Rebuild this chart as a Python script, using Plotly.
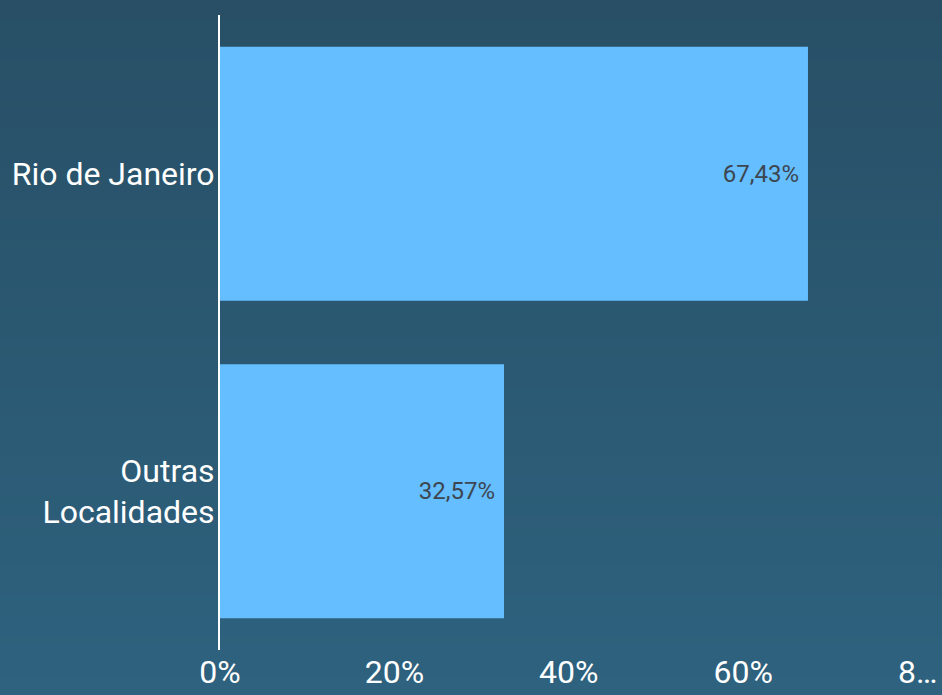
import plotly.graph_objects as go

categories = ["Rio de Janeiro", "Outras<br>Localidades"]
values = [67.43, 32.57]
tick_vals = [0, 20, 40, 60, 80]
tick_text = ["0%", "20%", "40%", "60%", "8…"]

W, H = 942, 695
ML, MR, MT, MB = 220, 0, 15, 45
pw, ph = W - ML - MR, H - MT - MB

top = (40, 79, 102)
bot = (46, 98, 126)
shapes = []
N = 70
y_lo = -MB / ph
y_hi = 1 + MT / ph
for i in range(N):
    t = i / (N - 1)
    c = tuple(round(bot[k] + (top[k] - bot[k]) * t) for k in range(3))
    y0 = y_lo + (y_hi - y_lo) * i / N
    y1 = y_lo + (y_hi - y_lo) * (i + 1) / N + 0.002
    shapes.append(dict(type="rect", xref="paper", yref="paper",
                       x0=-ML / pw - 0.01, x1=1.01, y0=y0, y1=y1,
                       fillcolor="rgb(%d,%d,%d)" % c, line=dict(width=0),
                       layer="below"))

fig = go.Figure(go.Bar(
    x=values, y=categories, orientation="h",
    marker=dict(color="#64beff", line=dict(width=0)),
    texttemplate="%{x:.2f}%\u00a0", textposition="inside", insidetextanchor="end",
    textfont=dict(family="Roboto", size=24, color="#3d4650"),
    width=0.8,
))

fig.update_layout(
    width=W, height=H,
    margin=dict(l=ML, r=MR, t=MT, b=MB),
    paper_bgcolor="#2b5873", plot_bgcolor="rgba(0,0,0,0)",
    separators=",.",
    shapes=shapes,
    showlegend=False,
    font=dict(family="Roboto", color="white"),
    xaxis=dict(range=[0, 82.8], tickvals=tick_vals, ticktext=tick_text,
               showgrid=False, zeroline=False, showline=False,
               tickfont=dict(size=32, color="white"), ticks="",
               automargin=False),
    yaxis=dict(categoryorder="array", categoryarray=categories,
               autorange="reversed", showgrid=False, zeroline=False,
               showline=True, linecolor="white", linewidth=2,
               tickfont=dict(size=32, color="white"), ticks="", ticklen=0,
               ticklabelstandoff=-3, automargin=False),
    bargap=0.2,
)

fig.write_html("out.html", config={"displayModeBar": False},
               post_script="document.body.style.margin='0';document.body.style.overflow='hidden';")
